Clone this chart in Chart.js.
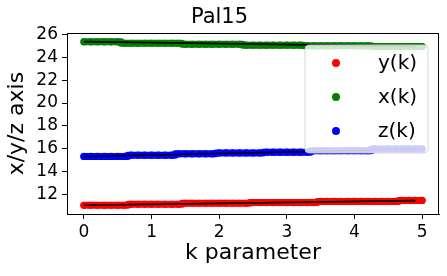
<!DOCTYPE html>
<html>
<head>
<meta charset="utf-8">
<script src="https://cdn.jsdelivr.net/npm/chart.js@4.4.1/dist/chart.umd.min.js"></script>
<style>
html,body{margin:0;padding:0;background:#fff;}
#wrap{width:447px;height:276px;position:relative;}
</style>
</head>
<body>
<div id="wrap"><canvas id="c" width="447" height="276"></canvas></div>
<script>
// ---- data ----
const title = 'Pal15';
const xLabel = 'k parameter';
const yLabel = 'x/y/z axis';
const seriesNames = ['y(k)', 'x(k)', 'z(k)'];
const kValues = [0.0,0.1,0.2,0.3,0.4,0.5,0.6,0.7,0.8,0.9,1.0,1.1,1.2,1.3,1.4,1.5,1.6,1.7,1.8,1.9,2.0,
  2.1,2.2,2.3,2.4,2.5,2.6,2.7,2.8,2.9,3.0,3.1,3.2,3.3,3.4,3.5,3.6,3.7,3.8,3.9,4.0,
  4.1,4.2,4.3,4.4,4.5,4.6,4.7,4.8,4.9,5.0];
const yk = [11.04,11.04,11.04,11.04,11.04,11.04,11.04,
  11.13,11.13,11.13,11.13,11.13,11.13,11.13,11.13,
  11.22,11.22,11.22,11.22,11.22,11.22,11.22,11.22,11.22,11.22,
  11.28,11.28,11.28,11.28,11.28,11.28,11.28,11.28,11.28,11.28,
  11.38,11.38,11.38,11.38,11.38,11.38,11.38,11.38,11.38,11.38,11.38,11.38,
  11.47,11.47,11.47,11.47];
const xk = [25.36,25.36,25.36,25.36,25.36,25.36,
  25.24,25.24,25.24,25.24,25.24,25.24,25.24,25.24,25.24,
  25.15,25.15,25.15,25.15,25.15,25.15,25.15,25.15,25.15,
  25.07,25.07,25.07,25.07,25.07,25.07,25.07,25.07,25.07,
  25.02,25.02,25.02,25.02,25.02,25.02,25.02,25.02,25.02,25.02,
  24.95,24.95,24.95,24.95,24.95,24.95,24.95,24.95];
const zk = [15.32,15.32,15.32,15.32,15.32,15.32,15.32,
  15.43,15.43,15.43,15.43,15.43,15.43,15.43,
  15.55,15.55,15.55,15.55,15.55,15.55,
  15.63,15.63,15.63,15.63,15.63,15.63,15.63,
  15.70,15.70,15.70,15.70,15.70,15.70,15.70,
  15.82,15.82,15.82,15.82,15.82,15.82,15.82,15.82,15.82,
  15.98,15.98,15.98,15.98,15.98,15.98,15.98,15.98];
// fitted lines (start/end)
const fitK = [0.0, 4.9];
const fitY = [11.05, 11.45];
const fitX = [25.38, 24.97];
const fitZ = [15.32, 15.95];
const xTicks = [0,1,2,3,4,5];
const yTicks = [12,14,16,18,20,22,24,26];

const FONT = "'DejaVu Sans', sans-serif";
const toPts = (ks, vs) => ks.map((k, i) => ({x: k, y: vs[i]}));

const colors = ['#ff0000', '#008000', '#0000ff'];
const seriesVals = [yk, xk, zk];
const fits = [fitY, fitX, fitZ];

const datasets = [];
seriesVals.forEach((vals, i) => {
  datasets.push({
    type: 'scatter', label: seriesNames[i], data: toPts(kValues, vals),
    backgroundColor: colors[i], borderColor: colors[i], borderWidth: 7,
    pointBackgroundColor: colors[i], pointBorderWidth: 0,
    pointRadius: 3.6, pointHoverRadius: 3.6, order: 2,
    showLine: true, stepped: 'middle',
    borderCapStyle: 'round', borderJoinStyle: 'round'
  });
});
fits.forEach((f) => {
  datasets.push({
    type: 'line', label: '', data: toPts(fitK, f),
    borderColor: '#000', borderWidth: 1.6, pointRadius: 0, fill: false, order: 1
  });
});

const framePlugin = {
  id: 'frameAndLegend',
  afterDatasetsDraw(chart) {
    const ctx = chart.ctx;
    const a = chart.chartArea;
    ctx.save();
    // legend box
    const bx = 305, by = 45, bw = 123, bh = 108, r = 4;
    ctx.beginPath();
    ctx.moveTo(bx + r, by);
    ctx.lineTo(bx + bw - r, by); ctx.arcTo(bx + bw, by, bx + bw, by + r, r);
    ctx.lineTo(bx + bw, by + bh - r); ctx.arcTo(bx + bw, by + bh, bx + bw - r, by + bh, r);
    ctx.lineTo(bx + r, by + bh); ctx.arcTo(bx, by + bh, bx, by + bh - r, r);
    ctx.lineTo(bx, by + r); ctx.arcTo(bx, by, bx + r, by, r);
    ctx.closePath();
    ctx.fillStyle = 'rgba(255,255,255,0.8)';
    ctx.fill();
    ctx.strokeStyle = 'rgba(204,204,204,0.8)';
    ctx.lineWidth = 1;
    ctx.stroke();
    const rows = [63, 97, 131];
    ctx.font = '20px ' + FONT;
    ctx.textBaseline = 'middle';
    ctx.textAlign = 'left';
    seriesNames.forEach((n, i) => {
      const ds = chart.data.datasets[i];
      ctx.beginPath();
      ctx.arc(336, rows[i], 4, 0, Math.PI * 2);
      ctx.fillStyle = ds.backgroundColor;
      ctx.fill();
      ctx.fillStyle = '#000';
      ctx.fillText(n, 378, rows[i] + 1);
    });
    // frame
    ctx.strokeStyle = '#000';
    ctx.lineWidth = 1;
    ctx.strokeRect(Math.round(a.left) + 0.5, Math.round(a.top) + 0.5,
      Math.round(a.right - a.left) - 1, Math.round(a.bottom - a.top));
    ctx.restore();
  }
};

new Chart(document.getElementById('c'), {
  data: {datasets},
  options: {
    responsive: false,
    animation: false,
    layout: {padding: {top: 0, right: 8, bottom: 0, left: 0}},
    plugins: {
      legend: {display: false},
      tooltip: {enabled: false},
      title: {
        display: true, text: title, color: '#000',
        font: {family: FONT, size: 21, weight: 'normal'},
        padding: {top: 5, bottom: 3}
      }
    },
    scales: {
      x: {
        type: 'linear', min: -0.25, max: 5.25,
        afterBuildTicks: (s) => { s.ticks = xTicks.map(v => ({value: v})); },
        afterFit: (s) => { s.height = 62; },
        grid: {display: true, drawOnChartArea: false, drawTicks: true, tickLength: 5, color: '#000', tickWidth: 1},
        border: {display: true, color: '#000', width: 1},
        ticks: {color: '#000', font: {family: FONT, size: 17}, padding: 3, maxRotation: 0},
        title: {display: true, text: xLabel, color: '#000', font: {family: FONT, size: 22}, padding: {top: 0, bottom: 10}}
      },
      y: {
        type: 'linear', min: 10.28, max: 26.12,
        afterBuildTicks: (s) => { s.ticks = yTicks.map(v => ({value: v})); },
        afterFit: (s) => { s.width = 67; },
        grid: {display: true, drawOnChartArea: false, drawTicks: true, tickLength: 5, color: '#000', tickWidth: 1},
        border: {display: true, color: '#000', width: 1},
        ticks: {color: '#000', font: {family: FONT, size: 17}, padding: 4},
        title: {display: true, text: yLabel, color: '#000', font: {family: FONT, size: 22}, padding: {top: 4, bottom: 0}}
      }
    }
  },
  plugins: [framePlugin]
});
</script>
</body>
</html>
